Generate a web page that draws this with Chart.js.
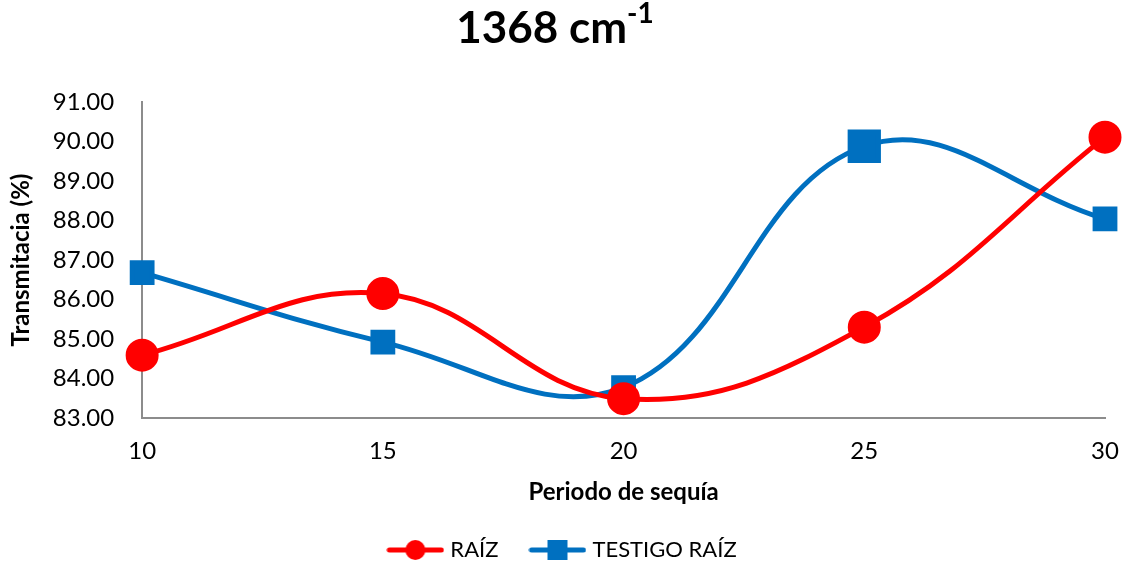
<!DOCTYPE html>
<html>
<head>
<meta charset="utf-8">
<script src="https://cdn.jsdelivr.net/npm/chart.js@4/dist/chart.umd.min.js"></script>
<style>
  html, body { margin: 0; padding: 0; background: #fff; }
  #wrap { position: relative; width: 1125px; height: 563px; }
  #title {
    position: absolute; left: 0; top: -1px; width: 1110px;
    text-align: center; font: bold 44px Lato, sans-serif; color: #000;
  }
  #title sup { font-size: 28px; position: relative; top: -4px; }
  canvas { position: absolute; left: 0; top: 0; }
</style>
</head>
<body>
<div id="wrap">
  <canvas id="chart" width="1125" height="563"></canvas>
  <div id="title">1368 cm<sup>-1</sup></div>
</div>
<script>
const periods = [10, 15, 20, 25, 30];
const raiz = [84.59, 86.15, 83.49, 85.30, 90.11];
const testigoRaiz = [86.68, 84.92, 83.77, 89.88, 88.04];
const yTicks = [83, 84, 85, 86, 87, 88, 89, 90, 91];

const red = "#FF0000";
const blue = "#0070C0";
const font = "Lato, sans-serif";

// small line + marker swatch for the legend
function legendSwatch(color, shape) {
  const c = document.createElement("canvas");
  c.width = 58; c.height = 24;
  const ctx = c.getContext("2d");
  ctx.strokeStyle = color;
  ctx.lineWidth = 5;
  ctx.lineCap = "round";
  ctx.beginPath();
  ctx.moveTo(3, 12); ctx.lineTo(55, 12);
  ctx.stroke();
  ctx.fillStyle = color;
  if (shape === "circle") {
    ctx.beginPath();
    ctx.arc(29, 12, 10, 0, Math.PI * 2);
    ctx.fill();
  } else {
    ctx.fillRect(19, 2, 20, 20);
  }
  return c;
}

const toPoints = ys => periods.map((x, i) => ({ x, y: ys[i] }));

new Chart(document.getElementById("chart"), {
  type: "line",
  data: {
    datasets: [
      {
        label: "RAÍZ",
        data: toPoints(raiz),
        borderColor: red,
        backgroundColor: red,
        borderWidth: 5,
        pointStyle: "circle",
        pointRadius: 14,
        pointHoverRadius: 14,
        tension: 0.4,
        clip: false,
        swatch: legendSwatch(red, "circle")
      },
      {
        label: "TESTIGO RAÍZ",
        data: toPoints(testigoRaiz),
        borderColor: blue,
        backgroundColor: blue,
        borderWidth: 5,
        pointStyle: "rect",
        pointRadius: [14, 14, 14, 20, 14],
        pointHoverRadius: 14,
        tension: 0.4,
        clip: false,
        swatch: legendSwatch(blue, "rect")
      }
    ]
  },
  options: {
    responsive: false,
    animation: false,
    layout: { padding: { top: 102, right: 0, left: 3, bottom: -8 } },
    plugins: {
      tooltip: { enabled: false },
      legend: {
        position: "bottom",
        labels: {
          usePointStyle: true,
          // swatch is a bit wider than its box so the text sits close to it
          pointStyleWidth: 48,
          padding: 35,
          color: "#000",
          font: { family: font, size: 22, lineHeight: 1 },
          generateLabels: chart => chart.data.datasets.map((ds, i) => ({
            text: ds.label,
            pointStyle: ds.swatch,
            fillStyle: ds.borderColor,
            strokeStyle: ds.borderColor,
            lineWidth: 0,
            fontColor: "#000",
            datasetIndex: i
          }))
        }
      }
    },
    scales: {
      x: {
        type: "linear",
        min: 10,
        max: 30,
        afterBuildTicks: axis => { axis.ticks = periods.map(v => ({ value: v })); },
        // keep only room for half of the "30" label on the right
        afterFit: axis => { axis.paddingRight = 20; },
        grid: { display: false, drawTicks: false },
        border: { display: true, color: "#8c8c8c", width: 2 },
        ticks: { color: "#000", padding: 21, font: { family: font, size: 24, lineHeight: 1 } },
        title: {
          display: true,
          text: "Periodo de sequía",
          color: "#000",
          padding: { top: -4, bottom: 0 },
          font: { family: font, size: 24, weight: "bold", lineHeight: 1 }
        }
      },
      y: {
        min: 83,
        max: 91,
        afterBuildTicks: axis => { axis.ticks = yTicks.map(v => ({ value: v })); },
        afterFit: axis => { axis.width -= 13; },
        grid: { display: false, drawTicks: false },
        border: { display: true, color: "#8c8c8c", width: 2 },
        ticks: {
          color: "#000",
          padding: 28,
          font: { family: font, size: 24 },
          callback: v => v.toFixed(2)
        },
        title: {
          display: true,
          text: "Transmitacia (%)",
          color: "#000",
          padding: { top: 4, bottom: 2 },
          font: { family: font, size: 24, weight: "bold" }
        }
      }
    }
  }
});
</script>
</body>
</html>
